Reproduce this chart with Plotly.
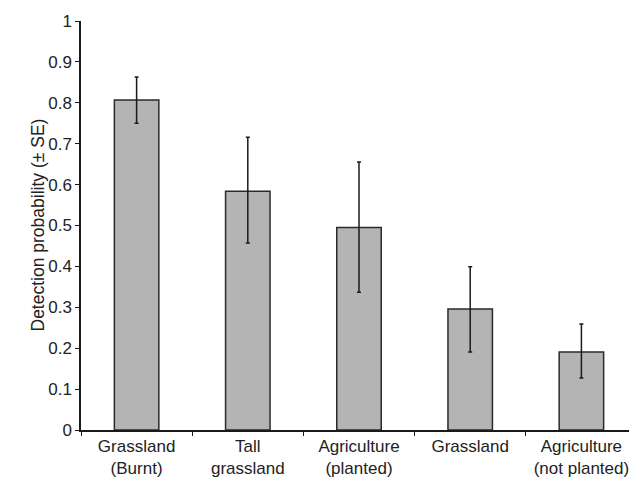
import plotly.graph_objects as go

categories = ["Grassland<br>(Burnt)", "Tall<br>grassland", "Agriculture<br>(planted)",
              "Grassland", "Agriculture<br>(not planted)"]
detection = [0.807, 0.584, 0.495, 0.296, 0.191]
se_upper = [0.863, 0.716, 0.655, 0.399, 0.259]
se_lower = [0.750, 0.457, 0.337, 0.191, 0.127]
y_title = "Detection probability (± SE)"

err_plus = [u - v for u, v in zip(se_upper, detection)]
err_minus = [v - l for v, l in zip(detection, se_lower)]

fig = go.Figure()
fig.add_trace(go.Bar(
    x=categories, y=detection,
    marker=dict(color="#b4b4b4", line=dict(color="#2a2a2a", width=1.5)),
    width=0.4,
    error_y=dict(type="data", symmetric=False, array=err_plus, arrayminus=err_minus,
                 color="#1a1a1a", thickness=1.5, width=2),
))

font = "Liberation Sans, Arial, sans-serif"
# the page body has an 8px margin, so the figure is sized to fit inside the window
fig.update_layout(
    width=629, height=474,
    margin=dict(l=73, r=0, t=13, b=52),
    paper_bgcolor="white", plot_bgcolor="white",
    showlegend=False,
    font=dict(family=font, color="#222222", size=16),
    xaxis=dict(
        type="category", automargin=False,
        showline=True, linecolor="#1a1a1a", linewidth=1.5,
        ticks="outside", tickson="boundaries", ticklen=4, tickcolor="#1a1a1a",
        tickfont=dict(size=17), showgrid=False, zeroline=False,
    ),
    yaxis=dict(
        range=[0, 1], dtick=0.1, tick0=0, automargin=False,
        showline=True, linecolor="#1a1a1a", linewidth=1.5,
        ticks="outside", ticklen=4, tickcolor="#1a1a1a",
        tickfont=dict(size=17), showgrid=False, zeroline=False,
    ),
    annotations=[dict(
        text=y_title, xref="paper", yref="paper", x=0, y=0.5,
        xshift=-44, textangle=-90, showarrow=False,
        xanchor="center", yanchor="middle",
        font=dict(size=17.5, family=font, color="#222222"),
    )],
)

fig.write_html("out.html")
